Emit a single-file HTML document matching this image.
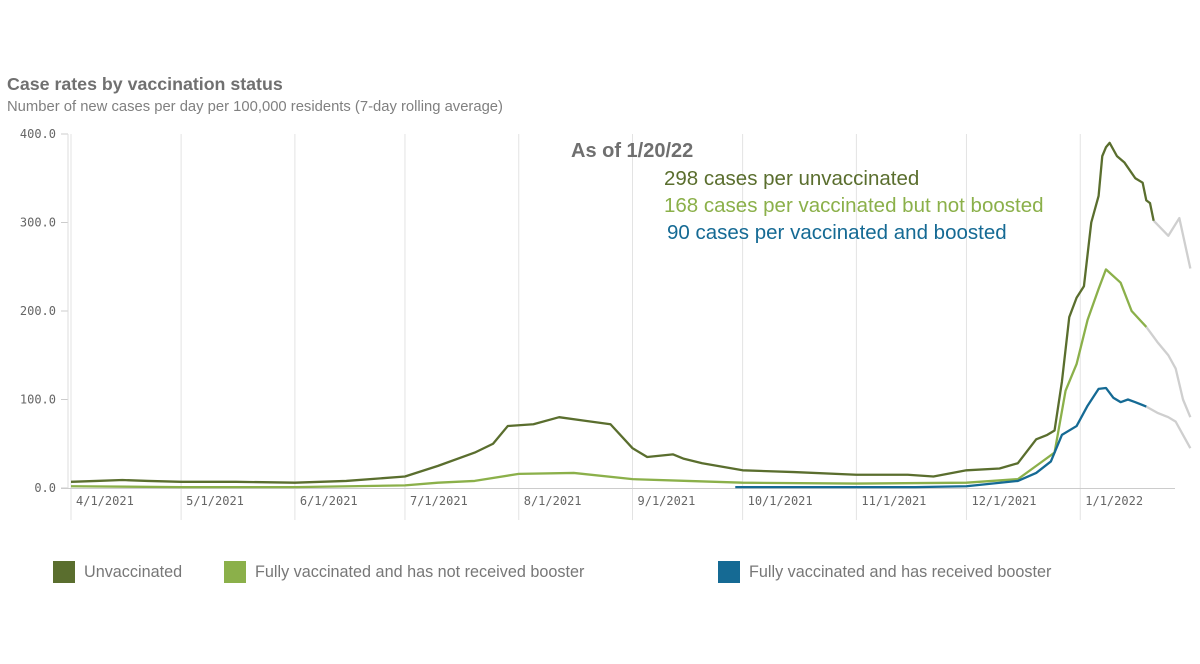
<!DOCTYPE html>
<html><head><meta charset="utf-8"><style>
body{margin:0;background:#fff;width:1200px;height:664px;overflow:hidden}
svg{display:block}
.tk{font-family:"DejaVu Sans Mono","Liberation Mono",monospace;font-size:12px;fill:#666}
</style></head><body>
<svg id="c" width="1200" height="664">
<text x="7" y="90" font-family="Liberation Sans,sans-serif" font-weight="bold" font-size="17.8" fill="#707070">Case rates by vaccination status</text>
<text x="7" y="111" font-family="Liberation Sans,sans-serif" font-size="14.8" fill="#808080">Number of new cases per day per 100,000 residents (7-day rolling average)</text>
<g id="grid"></g><g id="axes"></g><g id="lines"></g>
<text x="571" y="157" font-family="Liberation Sans,sans-serif" font-weight="bold" font-size="20" fill="#6f6f6f">As of 1/20/22</text>
<text x="664" y="185" font-family="Liberation Sans,sans-serif" font-size="20.5" fill="#5a6e2e">298  cases per unvaccinated</text>
<text x="664" y="212" font-family="Liberation Sans,sans-serif" font-size="20.5" fill="#8bb04a">168 cases per vaccinated but not boosted</text>
<text x="667" y="239" font-family="Liberation Sans,sans-serif" font-size="20.5" fill="#156a94">90  cases per vaccinated and boosted</text>
<g font-family="Liberation Sans,sans-serif" font-size="16.2" fill="#777">
<rect x="53" y="561" width="22" height="22" fill="#5a6e2e"/>
<text x="84" y="577">Unvaccinated</text>
<rect x="224" y="561" width="22" height="22" fill="#8bb04a"/>
<text x="255" y="577">Fully vaccinated and has not received booster</text>
<rect x="718" y="561" width="22" height="22" fill="#156a94"/>
<text x="749" y="577">Fully vaccinated and has received booster</text>
</g>
</svg>
<script>
const xTickLabels=["4/1/2021","5/1/2021","6/1/2021","7/1/2021","8/1/2021","9/1/2021","10/1/2021","11/1/2021","12/1/2021","1/1/2022"];
const xTickDays=[0,30,61,91,122,153,183,214,244,275];
const yTicks=[0,100,200,300,400];
const yTickLabels=["0.0","100.0","200.0","300.0","400.0"];
const unvaxDays=[0,7,14,21,30,45,61,75,91,100,110,115,119,126,133,140,147,153,157,164,167,172,183,197,214,228,235,244,253,258,263,266,268,270,272,274,276,278,280,281,282,283,285,287,290,292,293,294,295];
const unvaxVals=[7,8,9,8,7,7,6,8,13,25,40,50,70,72,80,76,72,45,35,38,33,28,20,18,15,15,13,20,22,28,55,60,65,120,193,215,228,300,330,375,385,390,375,368,350,345,325,322,302];
const unvaxTailDays=[295,299,302,305];
const unvaxTailVals=[302,285,305,248];
const partDays=[0,30,61,91,100,110,122,137,153,168,183,214,244,258,263,268,271,274,277,280,282,286,289,293];
const partVals=[2,1,1,3,6,8,16,17,10,8,6,5,6,10,25,40,110,140,190,225,247,232,200,182];
const partTailDays=[293,296,299,301,303,305];
const partTailVals=[182,165,150,135,100,80];
const boostDays=[181,200,230,244,258,263,267,270,274,277,280,282,284,286,288,290,293];
const boostVals=[1,1,1,2,8,17,30,60,70,93,112,113,102,97,100,97,92];
const boostTailDays=[293,296,299,301,303,305];
const boostTailVals=[92,85,80,75,60,45];

const NS="http://www.w3.org/2000/svg";
const X=d=>71+3.67*d, Y=v=>488-0.885*v;
function mk(t,a,p){const e=document.createElementNS(NS,t);for(const k in a)e.setAttribute(k,a[k]);p.appendChild(e);return e;}
const grid=document.getElementById('grid'),axes=document.getElementById('axes'),lines=document.getElementById('lines');
xTickDays.forEach((d,i)=>{
  const l=mk('line',{x1:X(d),x2:X(d),y1:134,y2:520,stroke:'#e3e3e3','stroke-width':1},grid);
  
  
  const t=mk('text',{x:X(d)+5,y:505,class:'tk'},axes);t.textContent=xTickLabels[i];
  
  
});
yTicks.forEach((v,i)=>{
  const t=mk('text',{x:56,y:Y(v)+4,class:'tk','text-anchor':'end'},axes);t.textContent=yTickLabels[i];
  
  
  const m=mk('line',{x1:61,x2:68,y1:Y(v),y2:Y(v),stroke:'#ccc'},axes);
  
  
});
const ya=mk('line',{x1:68,x2:68,y1:134,y2:488,stroke:'#ddd'},axes);


const xa=mk('line',{x1:61,x2:1175,y1:488.5,y2:488.5,stroke:'#ccc'},axes);


function line(ds,vs,col,name){
  const p=mk('polyline',{points:ds.map((d,i)=>X(d)+','+Y(vs[i])).join(' '),fill:'none',stroke:col,'stroke-width':2.3,'stroke-linejoin':'round'},lines);
  
  
}
line(unvaxTailDays,unvaxTailVals,'#cfcfcf','unvaccinated-provisional-line');
line(partTailDays,partTailVals,'#cfcfcf','not-boosted-provisional-line');
line(boostTailDays,boostTailVals,'#cfcfcf','boosted-provisional-line');
line(partDays,partVals,'#8bb04a','not-boosted-line');
line(boostDays,boostVals,'#156a94','boosted-line');
line(unvaxDays,unvaxVals,'#5a6e2e','unvaccinated-line');
</script>
</body></html>
